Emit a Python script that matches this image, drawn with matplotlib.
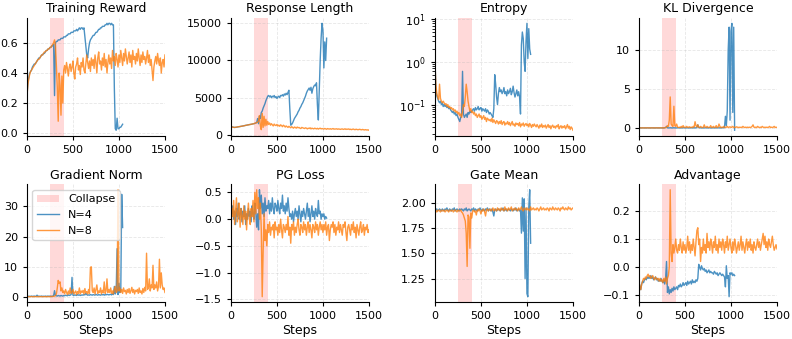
import matplotlib
matplotlib.use("Agg")
import matplotlib.pyplot as plt

# ---------------- data ----------------
steps_n4 = list(range(0, 1041, 10))
steps_n8 = list(range(0, 1501, 10))

reward_n4 = [0.25, 0.33, 0.37, 0.40, 0.41, 0.42, 0.44, 0.45, 0.46, 0.46,
             0.47, 0.48, 0.49, 0.50, 0.50, 0.51, 0.52, 0.52, 0.53, 0.53,
             0.54, 0.55, 0.55, 0.56, 0.56, 0.57, 0.57, 0.58, 0.58, 0.59,
             0.25, 0.60, 0.61, 0.61, 0.62, 0.62, 0.62, 0.63, 0.63, 0.63,
             0.64, 0.64, 0.64, 0.65, 0.65, 0.66, 0.66, 0.66, 0.67, 0.67,
             0.67, 0.68, 0.68, 0.68, 0.69, 0.68, 0.69, 0.70, 0.69, 0.70,
             0.70, 0.69, 0.70, 0.64, 0.58, 0.52, 0.50, 0.56, 0.60, 0.62,
             0.63, 0.64, 0.65, 0.65, 0.66, 0.67, 0.67, 0.68, 0.69, 0.69,
             0.70, 0.70, 0.71, 0.71, 0.71, 0.72, 0.72, 0.73, 0.72, 0.73,
             0.73, 0.72, 0.73, 0.72, 0.72, 0.30, 0.03, 0.02, 0.10, 0.03,
             0.03, 0.04, 0.04, 0.05, 0.06]
reward_n8 = [0.24, 0.32, 0.36, 0.39, 0.41, 0.42, 0.43, 0.44, 0.45, 0.46,
             0.47, 0.48, 0.49, 0.49, 0.50, 0.51, 0.52, 0.52, 0.53, 0.54,
             0.54, 0.55, 0.55, 0.56, 0.56, 0.57, 0.57, 0.58, 0.59, 0.60,
             0.62, 0.58, 0.45, 0.30, 0.08, 0.40, 0.32, 0.12, 0.38, 0.20,
             0.42, 0.45, 0.40, 0.47, 0.43, 0.38, 0.44, 0.46, 0.41, 0.44,
             0.48, 0.40, 0.36, 0.44, 0.46, 0.50, 0.42, 0.45, 0.39, 0.47,
             0.44, 0.50, 0.42, 0.40, 0.46, 0.52, 0.47, 0.43, 0.48, 0.41,
             0.50, 0.45, 0.49, 0.43, 0.52, 0.47, 0.40, 0.50, 0.54, 0.46,
             0.48, 0.42, 0.50, 0.45, 0.53, 0.44, 0.49, 0.40, 0.47, 0.52,
             0.46, 0.50, 0.43, 0.55, 0.48, 0.51, 0.45, 0.53, 0.49, 0.44,
             0.52, 0.47, 0.55, 0.50, 0.45, 0.53, 0.48, 0.56, 0.51, 0.46,
             0.50, 0.54, 0.47, 0.52, 0.44, 0.55, 0.49, 0.51, 0.46, 0.53,
             0.48, 0.56, 0.50, 0.45, 0.52, 0.47, 0.54, 0.49, 0.51, 0.46,
             0.50, 0.55, 0.47, 0.52, 0.45, 0.49, 0.42, 0.35, 0.44, 0.48,
             0.51, 0.46, 0.53, 0.48, 0.45, 0.50, 0.40, 0.47, 0.49, 0.44,
             0.52]

resp_n4 = [1100, 1080, 1050, 1020, 1000, 1010, 1030, 1050, 1080, 1100,
           1120, 1150, 1170, 1200, 1220, 1250, 1280, 1300, 1330, 1350,
           1380, 1400, 1420, 1450, 1480, 1500, 1550, 1600, 1650, 2200,
           1500, 2500, 2200, 3000, 3200, 3600, 3900, 4200, 4600, 4900,
           5200, 5300, 5100, 5250, 5000, 5200, 5100, 5300, 5000, 5150,
           4900, 5100, 5200, 5000, 5300, 5250, 5400, 5200, 5500, 5350,
           5600, 5400, 5700, 6000, 3500, 1300, 1400, 1600, 1900, 2200,
           2400, 2600, 2800, 3100, 3300, 3600, 3800, 4100, 4300, 4600,
           4900, 5200, 5600, 5900, 6100, 6300, 6000, 6400, 5600, 6200,
           6500, 6700, 6600, 7000, 4000, 2000, 6000, 10000, 13000, 15000,
           14000, 9000, 12500, 10000, 13000]
resp_n8 = [1100, 1070, 1040, 1010, 1000, 1020, 1040, 1060, 1080, 1100,
           1130, 1150, 1170, 1190, 1220, 1240, 1270, 1300, 1320, 1350,
           1380, 1400, 1420, 1450, 1480, 1500, 1550, 1600, 1650, 1700,
           1900, 2600, 1200, 700, 2900, 1000, 2500, 1200, 2100, 1300,
           1800, 1400, 1600, 1300, 1500, 1350, 1200, 1450, 1300, 1250,
           1400, 1200, 1300, 1150, 1350, 1250, 1100, 1300, 1200, 1050,
           1200, 1100, 1000, 1150, 1050, 950, 1100, 1000, 900, 1050,
           1000, 900, 1050, 950, 1000, 900, 850, 1000, 950, 900,
           850, 950, 900, 800, 900, 850, 950, 800, 900, 850,
           800, 900, 850, 800, 880, 780, 850, 900, 800, 850,
           820, 780, 860, 800, 750, 850, 800, 780, 830, 760,
           800, 850, 760, 800, 780, 820, 750, 800, 770, 740,
           780, 800, 740, 760, 820, 730, 780, 750, 800, 720,
           760, 700, 750, 780, 720, 700, 760, 730, 690, 720,
           750, 700, 680, 730, 700, 660, 700, 680, 650, 680,
           620]

entropy_n4 = [1.2, 0.25, 0.16, 0.14, 0.12, 0.11, 0.12, 0.10, 0.11, 0.09,
              0.10, 0.09, 0.095, 0.085, 0.09, 0.08, 0.085, 0.075, 0.07, 0.065,
              0.07, 0.06, 0.065, 0.055, 0.06, 0.05, 0.045, 0.04, 0.05, 0.055,
              0.6, 0.06, 0.05, 0.055, 0.06, 0.05, 0.065, 0.06, 0.07, 0.065,
              0.07, 0.075, 0.08, 0.07, 0.085, 0.075, 0.08, 0.09, 0.075, 0.08,
              0.085, 0.07, 0.08, 0.075, 0.07, 0.08, 0.065, 0.075, 0.07, 0.06,
              0.065, 0.06, 0.055, 0.05, 0.08, 0.5, 0.3, 0.15, 0.10, 0.18,
              0.25, 0.2, 0.22, 0.18, 0.2, 0.25, 0.18, 0.2, 0.16, 0.22,
              0.18, 0.2, 0.24, 0.17, 0.2, 0.27, 0.19, 0.15, 0.18, 0.22,
              0.16, 0.2, 0.15, 0.06, 2.5, 5.0, 3.5, 1.0, 0.6, 3.0,
              8.0, 1.2, 6.0, 2.0, 1.5]
entropy_n8 = [1.0, 0.3, 0.18, 0.15, 0.13, 0.3, 0.14, 0.12, 0.11, 0.12,
              0.11, 0.10, 0.105, 0.09, 0.1, 0.085, 0.09, 0.08, 0.085, 0.075,
              0.08, 0.07, 0.075, 0.065, 0.07, 0.06, 0.065, 0.055, 0.06, 0.05,
              0.07, 0.1, 0.09, 0.15, 0.3, 0.2, 0.12, 0.09, 0.07, 0.08,
              0.065, 0.07, 0.06, 0.065, 0.055, 0.06, 0.05, 0.055, 0.06, 0.05,
              0.055, 0.045, 0.05, 0.055, 0.045, 0.05, 0.04, 0.048, 0.045, 0.042,
              0.045, 0.04, 0.048, 0.038, 0.044, 0.04, 0.036, 0.042, 0.04, 0.035,
              0.04, 0.036, 0.042, 0.034, 0.038, 0.04, 0.033, 0.037, 0.035, 0.04,
              0.034, 0.038, 0.032, 0.036, 0.04, 0.033, 0.035, 0.031, 0.037, 0.034,
              0.036, 0.032, 0.038, 0.03, 0.035, 0.033, 0.037, 0.031, 0.034, 0.036,
              0.032, 0.035, 0.03, 0.036, 0.033, 0.029, 0.034, 0.031, 0.035, 0.032,
              0.03, 0.034, 0.031, 0.028, 0.033, 0.03, 0.035, 0.029, 0.032, 0.03,
              0.033, 0.028, 0.031, 0.034, 0.029, 0.032, 0.027, 0.031, 0.033, 0.029,
              0.031, 0.028, 0.032, 0.03, 0.034, 0.027, 0.03, 0.032, 0.028, 0.031,
              0.029, 0.032, 0.027, 0.03, 0.034, 0.028, 0.031, 0.026, 0.03, 0.028,
              0.025]

kl_n4 = [0.01, 0.0, 0.01, 0.0, 0.01, 0.0, 0.0, 0.01, 0.0, 0.01,
         0.0, 0.01, 0.0, 0.0, 0.01, 0.0, 0.01, 0.0, 0.0, 0.01,
         0.0, 0.01, 0.0, 0.01, 0.0, 0.0, 0.01, 0.0, 0.02, 0.05,
         0.2, 0.02, 0.01, 0.0, 0.02, 0.01, 0.0, 0.01, 0.02, 0.0,
         0.01, 0.0, 0.02, 0.01, 0.0, 0.01, 0.02, 0.0, 0.01, 0.03,
         0.01, 0.0, 0.02, 0.01, 0.0, 0.01, 0.02, 0.01, 0.0, 0.02,
         0.01, 0.02, 0.0, 0.05, 0.4, 0.05, 0.02, 0.01, 0.0, 0.02,
         0.01, 0.0, 0.02, 0.01, 0.03, 0.0, 0.01, 0.02, 0.0, 0.01,
         0.02, 0.01, 0.0, 0.02, 0.01, 0.03, 0.0, 0.02, 0.01, 0.02,
         0.01, 0.03, 0.02, 0.05, 1.5, 0.3, 2.2, 10.0, 13.0, 1.0,
         12.5, 13.5, 2.0, 13.0, -0.3]
kl_n8 = [0.0, 0.01, 0.0, 0.0, 0.01, 0.0, 0.01, 0.0, 0.0, 0.01,
         0.0, 0.0, 0.01, 0.0, 0.01, 0.0, 0.0, 0.01, 0.0, 0.0,
         0.01, 0.0, 0.0, 0.01, 0.0, 0.02, 0.0, 0.01, 0.02, 0.05,
         0.1, 0.3, 0.2, 1.0, 4.0, 0.5, 0.3, 0.2, 2.8, 0.3,
         0.2, 0.5, 0.1, 0.05, 0.1, 0.05, 0.2, 0.05, 0.3, 0.1,
         0.05, 0.1, 0.2, 0.05, 0.1, 0.15, 0.05, 0.1, 0.05, 0.2,
         0.1, 0.8, 0.3, 0.1, 0.4, 0.1, 0.05, 0.2, 0.1, 0.05,
         0.1, 0.4, 0.1, 0.05, 0.2, 0.1, 0.05, 0.1, 0.3, 0.05,
         0.1, 0.2, 0.05, 0.1, 0.3, 0.05, 0.1, 0.5, 0.2, 0.05,
         0.1, 0.05, 0.2, 0.1, 0.05, 0.1, 0.2, 0.05, 0.1, 0.15,
         0.05, 0.1, 0.2, 0.05, 0.1, 0.05, 0.15, 0.1, 0.05, 0.1,
         0.05, 0.1, 0.05, 0.2, 0.1, 0.05, 0.1, 0.05, 0.1, 0.05,
         0.1, 0.05, 0.1, 0.2, 0.4, 0.1, 0.05, 0.1, 0.05, 0.2,
         0.1, 0.05, 0.1, 0.05, 0.2, 0.1, 0.05, 0.1, 0.05, 0.1,
         0.05, 0.1, 0.2, 0.05, 0.1, 0.05, 0.1, 0.2, 0.05, 0.1,
         0.05]

grad_n4 = [0.2, 0.3, 0.2, 0.25, 0.2, 0.3, 0.2, 0.25, 0.3, 0.2,
           0.25, 0.6, 0.2, 0.3, 0.2, 0.25, 0.3, 0.2, 0.25, 0.2,
           0.3, 0.2, 0.25, 0.3, 0.2, 0.3, 0.25, 0.2, 0.3, 0.4,
           2.1, 0.5, 0.4, 0.3, 0.5, 0.4, 0.3, 0.5, 0.4, 0.3,
           0.5, 0.4, 0.6, 0.5, 0.4, 0.7, 0.5, 0.6, 0.8, 6.5,
           0.6, 0.5, 0.7, 0.6, 0.5, 0.8, 0.6, 0.7, 0.5, 0.6,
           0.7, 0.6, 0.8, 0.7, 1.2, 0.8, 0.6, 0.7, 0.6, 0.8,
           0.7, 0.6, 0.8, 0.7, 0.6, 0.9, 0.7, 0.6, 0.8, 0.7,
           0.6, 0.8, 0.7, 0.9, 0.6, 0.8, 0.7, 0.9, 0.8, 0.7,
           0.8, 0.9, 0.7, 1.0, 0.8, 3.5, 1.0, 2.0, 16.0, 0.8,
           4.5, 1.5, 2.0, 34.0, 23.0]
grad_n8 = [0.1, 0.15, 0.1, 0.12, 0.1, 0.15, 0.1, 0.12, 0.1, 0.15,
           0.1, 0.12, 0.15, 0.1, 0.12, 0.1, 0.15, 0.1, 0.12, 0.1,
           0.15, 0.1, 0.12, 0.15, 0.1, 0.12, 0.15, 0.2, 0.15, 0.2,
           0.3, 0.5, 1.0, 3.0, 5.5, 4.5, 5.0, 2.0, 3.0, 1.5,
           2.0, 1.0, 2.5, 1.5, 0.8, 2.0, 1.0, 3.0, 1.2, 1.5,
           2.5, 1.0, 1.5, 2.0, 0.8, 1.8, 1.2, 3.0, 1.0, 2.0,
           1.5, 2.2, 1.0, 2.8, 1.3, 1.8, 1.0, 2.5, 1.2, 9.8,
           10.0, 2.0, 1.5, 3.0, 1.0, 2.5, 4.0, 1.2, 2.0, 1.5,
           3.0, 1.0, 2.2, 1.5, 5.0, 1.2, 2.0, 6.0, 1.5, 2.5,
           1.5, 3.0, 1.2, 2.0, 1.0, 2.5, 3.5, 1.5, 2.0, 35.5,
           2.0, 3.0, 1.5, 2.5, 1.2, 3.0, 1.8, 2.2, 1.0, 2.5,
           1.5, 2.8, 1.2, 2.0, 3.2, 1.5, 2.5, 1.0, 2.2, 1.8,
           2.5, 1.2, 3.0, 1.5, 2.0, 1.0, 2.8, 1.5, 3.2, 2.0,
           14.5, 2.5, 3.0, 6.0, 2.0, 4.0, 3.0, 10.5, 2.5, 4.0,
           3.0, 5.0, 2.0, 3.5, 12.5, 3.0, 8.0, 4.0, 2.5, 3.0,
           1.5]

pg_n4 = [0.3, 0.1, 0.25, 0.0, 0.15, -0.1, 0.2, 0.05, 0.3, 0.0,
         0.1, 0.2, -0.05, 0.15, 0.05, 0.25, -0.1, 0.1, 0.0, 0.2,
         0.05, 0.15, -0.05, 0.25, 0.1, 0.0, 0.3, 0.15, -0.15, 0.1,
         -0.2, 0.55, 0.2, 0.45, 0.1, 0.3, 0.05, 0.4, 0.15, 0.25,
         0.2, 0.35, 0.1, 0.3, 0.15, 0.4, 0.2, 0.1, 0.3, 0.25,
         0.15, 0.35, 0.2, 0.1, 0.3, 0.2, 0.45, 0.15, 0.25, 0.1,
         0.3, 0.15, 0.4, 0.2, 0.05, 0.1, 0.0, 0.15, -0.05, 0.1,
         0.2, 0.05, 0.15, 0.0, 0.25, 0.1, -0.05, 0.15, 0.05, 0.2,
         0.1, 0.0, 0.15, 0.3, 0.05, 0.2, -0.05, 0.1, 0.25, 0.05,
         0.15, 0.0, 0.2, 0.1, 0.05, 0.35, 0.1, 0.15, 0.0, 0.1,
         0.05, 0.1, 0.0, 0.05, 0.02]
pg_n8 = [-0.3, 0.2, 0.05, 0.35, -0.1, 0.15, 0.4, -0.05, 0.1, 0.3,
         -0.15, 0.2, 0.05, -0.1, 0.25, 0.0, 0.15, -0.2, 0.1, 0.3,
         0.0, -0.1, 0.2, 0.05, 0.35, -0.05, 0.5, 0.1, 0.55, 0.2,
         0.4, 0.0, 0.3, -0.2, -1.45, -0.6, 0.1, -0.4, -0.2, -0.5,
         -0.1, -0.25, -0.05, -0.3, -0.15, -0.2, -0.1, -0.35, -0.05, -0.2,
         -0.15, -0.3, -0.1, -0.25, 0.0, -0.2, -0.35, -0.1, -0.15, -0.25,
         -0.1, -0.2, 0.05, -0.3, -0.15, -0.45, -0.1, -0.2, -0.05, -0.3,
         -0.15, -0.25, -0.1, 0.0, -0.2, -0.3, -0.1, -0.15, -0.25, -0.05,
         -0.2, -0.1, -0.3, -0.15, -0.05, -0.25, -0.1, -0.2, -0.35, -0.1,
         -0.15, -0.25, -0.05, -0.2, -0.1, -0.3, -0.15, -0.05, -0.2, -0.1,
         -0.25, -0.1, -0.2, -0.05, -0.3, -0.15, -0.1, -0.4, -0.2, -0.1,
         -0.15, -0.05, -0.25, -0.1, -0.3, -0.15, -0.2, -0.05, -0.25, -0.1,
         -0.2, -0.3, -0.1, -0.15, -0.05, -0.25, -0.4, -0.15, -0.1, -0.2,
         -0.3, -0.1, -0.2, -0.05, -0.25, -0.15, -0.35, -0.1, -0.2, -0.3,
         -0.15, -0.05, -0.25, -0.2, -0.1, -0.3, -0.15, -0.2, -0.1, -0.25,
         -0.2]

gate_n4 = [1.95, 1.93, 1.94, 1.92, 1.93, 1.94, 1.93, 1.92, 1.94, 1.93,
           1.92, 1.94, 1.93, 1.95, 1.93, 1.92, 1.94, 1.93, 1.92, 1.94,
           1.93, 1.95, 1.92, 1.93, 1.94, 1.93, 1.92, 1.94, 1.93, 1.94,
           1.93, 1.92, 1.94, 1.93, 1.95, 1.92, 1.93, 1.94, 1.93, 1.92,
           1.94, 1.93, 1.95, 1.92, 1.94, 1.93, 1.92, 1.94, 1.93, 1.95,
           1.93, 1.92, 1.94, 1.93, 1.92, 1.94, 1.93, 1.95, 1.92, 1.94,
           1.93, 1.92, 1.94, 1.91, 1.87, 1.93, 1.94, 1.92, 1.93, 1.94,
           1.93, 1.92, 1.94, 1.93, 1.95, 1.92, 1.93, 1.94, 1.92, 1.93,
           1.94, 1.93, 1.92, 1.94, 1.93, 1.92, 1.94, 1.93, 1.95, 1.92,
           1.93, 1.94, 1.92, 1.93, 1.70, 2.05, 1.72, 2.04, 1.25, 1.95,
           1.10, 1.07, 1.95, 2.13, 1.60]
gate_n8 = [1.92, 1.93, 1.91, 1.92, 1.93, 1.92, 1.91, 1.93, 1.92, 1.92,
           1.93, 1.91, 1.92, 1.93, 1.92, 1.91, 1.93, 1.92, 1.92, 1.93,
           1.91, 1.92, 1.93, 1.92, 1.91, 1.93, 1.92, 1.92, 1.93, 1.91,
           1.90, 1.88, 1.85, 1.82, 1.70, 1.37, 1.88, 1.86, 1.55, 1.90,
           1.85, 1.92, 1.93, 1.91, 1.92, 1.88, 1.93, 1.92, 1.94, 1.92,
           1.89, 1.93, 1.92, 1.94, 1.91, 1.87, 1.93, 1.94, 1.92, 1.93,
           1.94, 1.92, 1.93, 1.95, 1.92, 1.94, 1.93, 1.92, 1.95, 1.93,
           1.94, 1.92, 1.95, 1.93, 1.94, 1.92, 1.96, 1.93, 1.94, 1.92,
           1.95, 1.93, 1.94, 1.96, 1.92, 1.94, 1.93, 1.95, 1.93, 1.94,
           1.92, 1.95, 1.93, 1.94, 1.96, 1.93, 1.92, 1.95, 1.94, 1.93,
           1.95, 1.93, 1.94, 1.92, 1.96, 1.93, 1.94, 1.95, 1.93, 1.94,
           1.93, 1.95, 1.94, 1.92, 1.94, 1.96, 1.93, 1.94, 1.95, 1.93,
           1.94, 1.93, 1.95, 1.94, 1.92, 1.95, 1.94, 1.93, 1.96, 1.94,
           1.93, 1.95, 1.94, 1.93, 1.95, 1.94, 1.92, 1.95, 1.94, 1.96,
           1.94, 1.93, 1.95, 1.94, 1.93, 1.96, 1.94, 1.95, 1.93, 1.94,
           1.95]

adv_n4 = [-0.05, -0.07, -0.08, -0.06, -0.05, -0.055, -0.045, -0.04, -0.045, -0.035,
          -0.04, -0.035, -0.04, -0.03, -0.04, -0.035, -0.045, -0.04, -0.035, -0.045,
          -0.04, -0.05, -0.045, -0.05, -0.04, -0.05, -0.055, -0.045, -0.06, -0.04,
          0.02, -0.09, -0.07, -0.095, -0.08, -0.09, -0.075, -0.085, -0.07, -0.08,
          -0.075, -0.07, -0.08, -0.065, -0.07, -0.06, -0.07, -0.065, -0.055, -0.065,
          -0.06, -0.055, -0.065, -0.05, -0.06, -0.055, -0.05, -0.06, -0.045, -0.055,
          -0.05, -0.055, -0.045, -0.05, -0.04, 0.01, 0.0, -0.01, 0.005, -0.005,
          -0.01, -0.005, -0.015, -0.01, -0.02, -0.015, -0.01, -0.02, -0.015, -0.02,
          -0.02, -0.025, -0.015, -0.02, -0.025, -0.02, -0.03, -0.025, -0.02, -0.025,
          -0.03, -0.025, -0.03, -0.035, -0.07, 0.005, -0.04, -0.03, -0.105, -0.02,
          -0.025, -0.02, -0.03, -0.025, -0.03]
adv_n8 = [-0.05, -0.07, -0.08, -0.06, -0.05, -0.04, -0.045, -0.035, -0.04, -0.03,
          -0.025, -0.035, -0.03, -0.04, -0.035, -0.03, -0.04, -0.045, -0.035, -0.04,
          -0.045, -0.04, -0.05, -0.04, -0.05, -0.045, -0.055, -0.04, -0.05, -0.035,
          -0.06, -0.04, -0.03, 0.0, 0.275, 0.05, 0.02, 0.08, 0.05, 0.07,
          0.1, 0.06, 0.05, 0.08, 0.06, 0.1, 0.07, 0.05, 0.09, 0.06,
          0.08, 0.05, 0.07, 0.11, 0.06, 0.09, 0.05, 0.08, 0.06, 0.1,
          0.07, 0.04, 0.09, 0.13, 0.14, 0.08, 0.1, 0.02, 0.07, 0.05,
          0.1, 0.06, 0.08, 0.05, 0.12, 0.07, 0.09, 0.06, 0.1, 0.08,
          0.05, 0.09, 0.07, 0.11, 0.06, 0.08, 0.05, 0.1, 0.07, 0.09,
          0.06, 0.1, 0.08, 0.05, 0.09, 0.07, 0.11, 0.06, 0.08, 0.1,
          0.07, 0.05, 0.09, 0.06, 0.1, 0.08, 0.05, 0.07, 0.09, 0.06,
          0.08, 0.11, 0.06, 0.09, 0.07, 0.05, 0.08, 0.1, 0.06, 0.09,
          0.07, 0.1, 0.06, 0.08, 0.05, 0.09, 0.07, 0.06, 0.08, 0.1,
          0.07, 0.09, 0.06, 0.08, 0.1, 0.12, 0.08, 0.11, 0.07, 0.09,
          0.06, 0.1, 0.08, 0.07, 0.09, 0.11, 0.08, 0.06, 0.07, 0.08,
          0.065]

titles = ["Training Reward", "Response Length", "Entropy", "KL Divergence",
          "Gradient Norm", "PG Loss", "Gate Mean", "Advantage"]
series_n4 = [reward_n4, resp_n4, entropy_n4, kl_n4, grad_n4, pg_n4, gate_n4, adv_n4]
series_n8 = [reward_n8, resp_n8, entropy_n8, kl_n8, grad_n8, pg_n8, gate_n8, adv_n8]
yticks = [[0.0, 0.2, 0.4, 0.6], [0, 5000, 10000, 15000], None, [0, 5, 10],
          [0, 10, 20, 30], [-1.5, -1.0, -0.5, 0.0, 0.5], [1.25, 1.5, 1.75, 2.0],
          [-0.1, 0.0, 0.1, 0.2]]
collapse_start, collapse_end = 250, 400
labels = ["N=4", "N=8"]

# ---------------- plot ----------------
C4 = "#1f77b4"
C8 = "#ff7f0e"

fig, axes = plt.subplots(2, 4, figsize=(7.92, 3.39), dpi=100)
fig.subplots_adjust(left=0.034, right=0.981, top=0.947, bottom=0.109,
                    wspace=0.478, hspace=0.415)

for i, ax in enumerate(axes.flat):
    span = ax.axvspan(collapse_start, collapse_end, color="red", alpha=0.15,
                      lw=0, label="Collapse")
    l4, = ax.plot(steps_n4, series_n4[i], color=C4, lw=1.0, alpha=0.8, label=labels[0])
    l8, = ax.plot(steps_n8, series_n8[i], color=C8, lw=1.0, alpha=0.8, label=labels[1])
    ax.set_title(titles[i], fontsize=9, pad=4)
    if i == 2:
        ax.set_yscale("log")
    if yticks[i] is not None:
        ax.set_yticks(yticks[i])
    ax.set_xlim(0, 1500)
    ax.set_xticks([0, 500, 1000, 1500])
    ax.tick_params(labelsize=8, length=3)
    ax.grid(True, linestyle="--", alpha=0.3, lw=0.6)
    ax.spines["top"].set_visible(False)
    ax.spines["right"].set_visible(False)
    if i >= 4:
        ax.set_xlabel("Steps", fontsize=9, labelpad=2)
    if i == 4:
        ax.legend(handles=[span, l4, l8], loc="upper left", fontsize=8,
                  framealpha=0.8, borderpad=0.4, handlelength=2.0)

fig.savefig("out.png", dpi=100)
